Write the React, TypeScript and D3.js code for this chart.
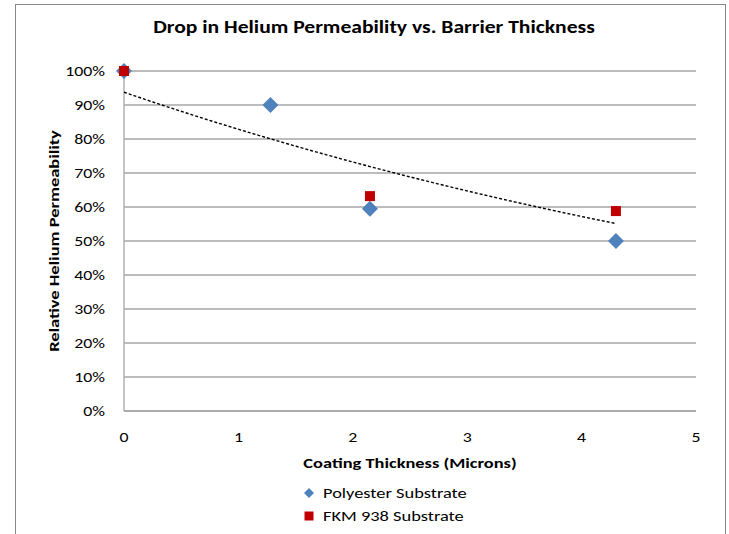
import React from 'react';
import * as d3 from 'd3';

// thickness in microns, relative permeability as fraction
const polyX = [0, 1.28, 2.15, 4.3];
const polyY = [1.0, 0.9, 0.595, 0.5];
const fkmX = [0, 2.15, 4.3];
const fkmY = [1.0, 0.632, 0.588];
const xTicks = [0, 1, 2, 3, 4, 5];
const yTicks = [0, 0.1, 0.2, 0.3, 0.4, 0.5, 0.6, 0.7, 0.8, 0.9, 1.0];

const W = 729;
const H = 534;
const FONT = "Carlito, Lato, 'Open Sans', sans-serif";
const STRETCH = 1.27; // the original text is rendered wide
const margin = { top: 71, left: 124, right: 33, bottom: 122 };

// exponential trendline fit (Excel style) on FKM series
const expFit = (xs: number[], ys: number[]) => {
  const ly = ys.map((v) => Math.log(v));
  const mx = d3.mean(xs) ?? 0;
  const my = d3.mean(ly) ?? 0;
  let sxy = 0;
  let sxx = 0;
  xs.forEach((x, i) => {
    sxy += (x - mx) * (ly[i] - my);
    sxx += (x - mx) * (x - mx);
  });
  const b = sxy / sxx;
  const a = Math.exp(my - b * mx);
  return (x: number) => a * Math.exp(b * x);
};

type TProps = {
  x: number;
  y: number;
  size: number;
  anchor?: 'start' | 'middle' | 'end';
  bold?: boolean;
  rotate?: number;
  children: React.ReactNode;
};

const T = ({ x, y, size, anchor = 'start', bold, rotate = 0, children }: TProps) => (
  <text
    transform={`translate(${x},${y}) rotate(${rotate}) scale(${STRETCH},1)`}
    textAnchor={anchor}
    fontSize={size}
    fontWeight={bold ? 'bold' : 'normal'}
    fill="#000"
  >
    {children}
  </text>
);

const App = () => {
  const x = d3.scaleLinear().domain([0, 5]).range([margin.left, W - margin.right]);
  const y = d3.scaleLinear().domain([0, 1]).range([H - margin.bottom - 1, margin.top]);

  const trend = expFit(fkmX, fkmY);
  const xMax = d3.max(fkmX) ?? 0;
  const trendPts = d3.range(0, 101).map((i) => (i / 100) * xMax);
  const trendLine = d3
    .line<number>()
    .x((d) => x(d))
    .y((d) => y(trend(d)));

  const diamond = (cx: number, cy: number, r: number) =>
    `M${cx},${cy - r}L${cx + r},${cy}L${cx},${cy + r}L${cx - r},${cy}Z`;

  const x0 = x(0);
  const x1 = x(5);
  const yB = y(0);

  return (
    <svg width={W} height={H} style={{ position: 'absolute', left: 0, top: 0 }} fontFamily={FONT}>
      <rect x={0} y={0} width={W} height={H} fill="#fff" />
      <rect x={15.5} y={4.5} width={710} height={H + 10} fill="#fff" stroke="#888" strokeWidth={1} />

      <T x={374} y={33} size={17} anchor="middle" bold>
        Drop in Helium Permeability vs. Barrier Thickness
      </T>

      {yTicks.map((t) => (
        <line key={'g' + t} x1={x0} x2={x1} y1={y(t)} y2={y(t)} stroke="#a6a6a6" strokeWidth={1.3} />
      ))}
      <line x1={x0} x2={x0} y1={y(1)} y2={yB} stroke="#a6a6a6" strokeWidth={1.3} />
      <line x1={x0} x2={x1} y1={yB} y2={yB} stroke="#a6a6a6" strokeWidth={1.3} />

      {yTicks.map((t) => (
        <T key={'yl' + t} x={105} y={y(t) + 5} size={14} anchor="end">
          {d3.format('.0%')(t)}
        </T>
      ))}
      {xTicks.map((t) => (
        <T key={'xl' + t} x={x(t)} y={442} size={14} anchor="middle">
          {t}
        </T>
      ))}

      <T x={410} y={468} size={14.5} anchor="middle" bold>
        Coating Thickness (Microns)
      </T>
      <T x={59} y={(y(1) + yB) / 2} size={14.5} anchor="middle" bold rotate={-90}>
        Relative Helium Permeability
      </T>

      <path d={trendLine(trendPts) ?? ''} fill="none" stroke="#000" strokeWidth={1.4} strokeDasharray="3,2" />

      {polyX.map((v, i) => (
        <path key={'p' + i} d={diamond(x(v), y(polyY[i]), 8)} fill="#4f81bd" />
      ))}
      {fkmX.map((v, i) => (
        <rect key={'f' + i} x={x(v) - 5} y={y(fkmY[i]) - 5} width={10} height={10} fill="#c00000" />
      ))}

      <path d={diamond(309, 493, 5)} fill="#4f81bd" />
      <T x={323} y={498} size={14.5}>Polyester Substrate</T>
      <rect x={304.5} y={511.5} width={9} height={9} fill="#c00000" />
      <T x={323} y={521} size={14.5}>FKM 938 Substrate</T>
    </svg>
  );
};

export default App;
